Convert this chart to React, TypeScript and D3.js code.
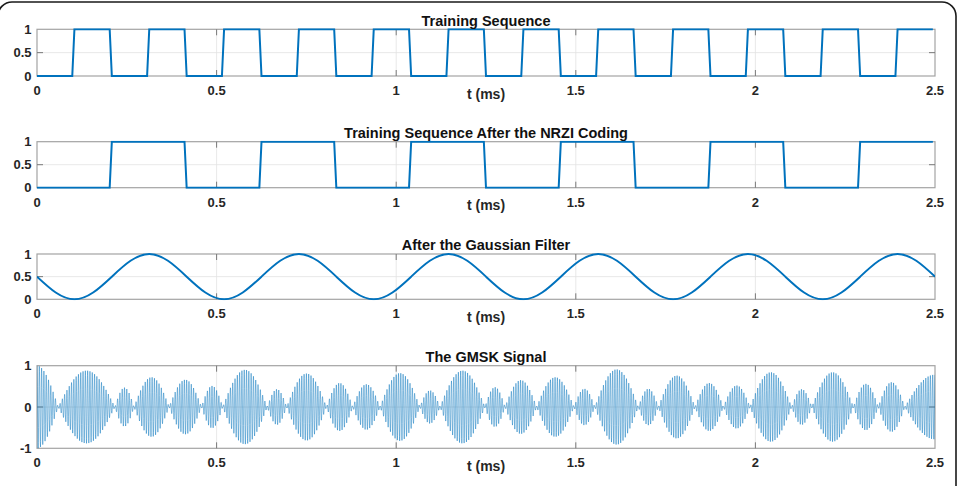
import React from "react";
import * as d3 from "d3";

// ---- data -------------------------------------------------------------
const T_END = 2.5; // ms
const xTickValues = [0, 0.5, 1, 1.5, 2, 2.5];
const xTickLabels = ["0", "0.5", "1", "1.5", "2", "2.5"];

const trainingBits = [
  0, 1, 0, 1, 0, 1, 0, 1, 0, 1, 0, 1,
  0, 1, 0, 1, 0, 1, 0, 1, 0, 1, 0, 1,
];

const nrziBits = [
  0, 0, 1, 1, 0, 0, 1, 1, 0, 0, 1, 1,
  0, 0, 1, 1, 0, 0, 1, 1, 0, 0, 1, 1,
];

// Gaussian-filtered NRZI stream, sampled every half bit (0 … 2.5 ms)
const gaussianValues = [
  0.5, 0.15, 0.0, 0.15, 0.5, 0.85, 1.0, 0.85,
  0.5, 0.15, 0.0, 0.15, 0.5, 0.85, 1.0, 0.85,
  0.5, 0.15, 0.0, 0.15, 0.5, 0.85, 1.0, 0.85,
  0.5, 0.15, 0.0, 0.15, 0.5, 0.85, 1.0, 0.85,
  0.5, 0.15, 0.0, 0.15, 0.5, 0.85, 1.0, 0.85,
  0.5, 0.15, 0.0, 0.15, 0.5, 0.85, 1.0, 0.85,
  0.5,
];

// GMSK trace: envelope zero crossings (ms) and the peak amplitude of each lobe
const gmskNulls = [
  -0.059, 0.059, 0.217, 0.27, 0.368, 0.458, 0.517, 0.641, 0.695, 0.806,
  0.879, 0.955, 1.066, 1.122, 1.247, 1.303, 1.391, 1.495, 1.553, 1.674,
  1.73, 1.832, 1.911, 1.985, 2.101, 2.157, 2.273, 2.342, 2.416, 2.58,
];
const gmskPeaks = [
  1.0, 0.88, 0.47, 0.72, 0.66, 0.51, 0.9, 0.43, 0.81, 0.58,
  0.55, 0.82, 0.4, 0.88, 0.48, 0.65, 0.72, 0.44, 0.91, 0.44,
  0.76, 0.58, 0.52, 0.84, 0.43, 0.84, 0.56, 0.6, 0.78,
];
const CARRIER_CYCLES = 390;
const SAMPLES_PER_CYCLE = 12;

const panelTitles = [
  "Training Sequence",
  "Training Sequence After the NRZI Coding",
  "After the Gaussian Filter",
  "The GMSK Signal",
];
const yTickSets = [
  { values: [0, 0.5, 1], labels: ["0", "0.5", "1"] },
  { values: [0, 0.5, 1], labels: ["0", "0.5", "1"] },
  { values: [0, 0.5, 1], labels: ["0", "0.5", "1"] },
  { values: [-1, 0, 1], labels: ["-1", "0", "1"] },
];
const xLabel = "t (ms)";

// ---- layout -----------------------------------------------------------
const W = 961;
const H = 486;
const LEFT = 37;
const RIGHT = 935;
const panelBoxes = [
  { top: 29.3, bottom: 76 },
  { top: 141.7, bottom: 187.7 },
  { top: 254, bottom: 299.3 },
  { top: 365.7, bottom: 448.3 },
];
const LINE_BLUE = "#0072BD";
const FONT = "'Liberation Sans', Arial, Helvetica, sans-serif";
const TICK_LEN = 6;

const x = d3.scaleLinear().domain([0, T_END]).range([LEFT, RIGHT]);

function squareWave(bits: number[]): [number, number][] {
  const bit = T_END / bits.length;
  const edge = 0.006;
  return bits.flatMap((v, k) => [
    [k * bit, v] as [number, number],
    [(k + 1) * bit - edge, v] as [number, number],
  ]);
}

function gmskSamples(): [number, number][] {
  const n = CARRIER_CYCLES * SAMPLES_PER_CYCLE;
  const pts: [number, number][] = [];
  let lobe = 0;
  for (let i = 0; i <= n; i++) {
    const t = (i / n) * T_END;
    while (lobe < gmskPeaks.length - 1 && t >= gmskNulls[lobe + 1]) lobe++;
    const a = gmskNulls[lobe];
    const b = gmskNulls[lobe + 1];
    const env = gmskPeaks[lobe] * Math.sin((Math.PI * (t - a)) / (b - a));
    pts.push([t, env * Math.cos((2 * Math.PI * CARRIER_CYCLES * t) / T_END)]);
  }
  return pts;
}

function Panel({ index }: { index: number }) {
  const box = panelBoxes[index];
  const ticks = yTickSets[index];
  const y = d3
    .scaleLinear()
    .domain([ticks.values[0], ticks.values[ticks.values.length - 1]])
    .range([box.bottom, box.top]);

  let strokeW = 2;
  let curve: d3.CurveFactory = d3.curveLinear;
  let pts: [number, number][] = [];
  if (index === 0) pts = squareWave(trainingBits);
  if (index === 1) pts = squareWave(nrziBits);
  if (index === 2) {
    pts = gaussianValues.map(
      (v, i) => [(i / (gaussianValues.length - 1)) * T_END, v] as [number, number]
    );
    curve = d3.curveNatural;
  }
  if (index === 3) {
    pts = gmskSamples();
    strokeW = 0.75;
  }
  const path =
    d3
      .line<[number, number]>()
      .x((d) => x(d[0]))
      .y((d) => y(d[1]))
      .curve(curve)(pts) || "";

  const clipId = `clip-${index}`;
  const innerX = xTickValues.slice(1, -1);
  const innerY = ticks.values.slice(1, -1);

  return (
    <g>
      <defs>
        <clipPath id={clipId}>
          <rect x={LEFT} y={box.top - 1} width={RIGHT - LEFT} height={box.bottom - box.top + 2} />
        </clipPath>
      </defs>
      {/* grid */}
      {innerX.map((v) => (
        <line key={`gx${v}`} x1={x(v)} x2={x(v)} y1={box.top} y2={box.bottom} stroke="#e2e2e2" strokeWidth={0.8} />
      ))}
      {innerY.map((v) => (
        <line key={`gy${v}`} x1={LEFT} x2={RIGHT} y1={y(v)} y2={y(v)} stroke="#e2e2e2" strokeWidth={0.8} />
      ))}
      {/* box */}
      <rect x={LEFT} y={box.top} width={RIGHT - LEFT} height={box.bottom - box.top} fill="none" stroke="#a3a3a3" strokeWidth={1.2} />
      {/* tick marks */}
      {innerX.map((v) => (
        <g key={`tx${v}`} stroke="#7a7a7a" strokeWidth={1}>
          <line x1={x(v)} x2={x(v)} y1={box.bottom} y2={box.bottom - TICK_LEN} />
          <line x1={x(v)} x2={x(v)} y1={box.top} y2={box.top + TICK_LEN} />
        </g>
      ))}
      {innerY.map((v) => (
        <g key={`ty${v}`} stroke="#7a7a7a" strokeWidth={1}>
          <line x1={LEFT} x2={LEFT + TICK_LEN} y1={y(v)} y2={y(v)} />
          <line x1={RIGHT} x2={RIGHT - TICK_LEN} y1={y(v)} y2={y(v)} />
        </g>
      ))}
      {/* data */}
      <path
        d={path}
        fill="none"
        stroke={LINE_BLUE}
        strokeWidth={strokeW}
        strokeOpacity={index === 3 ? 0.62 : 1}
        strokeLinejoin="miter"
        clipPath={`url(#${clipId})`}
      />
      {/* tick labels */}
      {xTickValues.map((v, i) => (
        <text key={`lx${v}`} x={x(v)} y={box.bottom + 18.8} textAnchor="middle" fontFamily={FONT} fontWeight="bold" fontSize={13} fill="#262626">
          {xTickLabels[i]}
        </text>
      ))}
      {ticks.values.map((v, i) => (
        <text key={`ly${v}`} x={31.5} y={y(v)} dy="0.36em" textAnchor="end" fontFamily={FONT} fontWeight="bold" fontSize={13} fill="#262626">
          {ticks.labels[i]}
        </text>
      ))}
      <text x={(LEFT + RIGHT) / 2} y={box.bottom + 22.5} textAnchor="middle" fontFamily={FONT} fontWeight="bold" fontSize={14} fill="#262626">
        {xLabel}
      </text>
      <text x={(LEFT + RIGHT) / 2} y={box.top - 3.8} textAnchor="middle" fontFamily={FONT} fontWeight="bold" fontSize={14.5} fill="#111">
        {panelTitles[index]}
      </text>
    </g>
  );
}

export default function App() {
  return (
    <svg
      width={W}
      height={H}
      viewBox={`0 0 ${W} ${H}`}
      style={{ position: "absolute", left: 0, top: 0, background: "#fff" }}
    >
      <rect x={0} y={0} width={W} height={H} fill="#fff" />
      {panelTitles.map((_, i) => (
        <Panel key={i} index={i} />
      ))}
      <rect x={-2} y={2} width={958} height={560} rx={14} fill="none" stroke="#1a1a1a" strokeWidth={1.6} />
    </svg>
  );
}
